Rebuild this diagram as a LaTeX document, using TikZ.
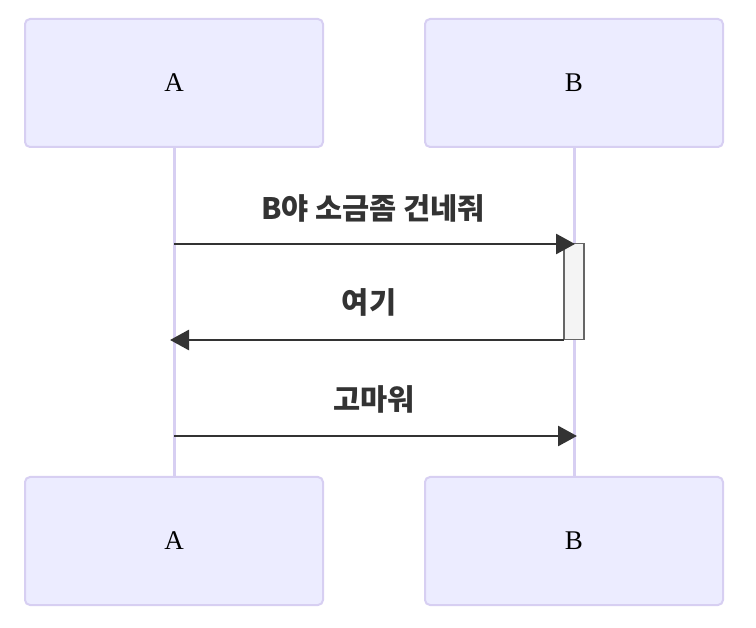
\documentclass[tikz,border=0pt]{standalone}
\usepackage{fontspec}
\setmainfont{Liberation Serif}
\newfontfamily\kofont{Noto Sans CJK KR}
\usetikzlibrary{arrows.meta}

\definecolor{actorfill}{HTML}{ECECFF}
\definecolor{actorline}{HTML}{D7CFF2}
\definecolor{msgline}{HTML}{333333}
\definecolor{actfill}{HTML}{F4F4F4}
\definecolor{actline}{HTML}{666666}

\tikzset{
  actor/.style={rectangle,rounded corners=5pt,fill=actorfill,draw=actorline,line width=2pt,
    minimum width=298pt,minimum height=128pt,font=\fontsize{27}{32}\selectfont},
  lifeline/.style={actorline,line width=3pt},
  activation/.style={rectangle,fill=actfill,draw=actline,line width=1.5pt,minimum width=20pt,minimum height=96pt,inner sep=0pt},
  msg/.style={msgline,line width=2.8pt,-{Triangle[length=19pt,width=20pt]}},
  msgtext/.style={text=msgline,font=\kofont\bfseries\fontsize{29.5}{34}\selectfont,inner sep=0pt}
}

\begin{document}
\begin{tikzpicture}[x=1pt,y=-1pt]
	\useasboundingbox (0,0) rectangle (756,628);

	% actors top and bottom
	\node[actor] (atop) at (174,83) {A};
	\node[actor] (btop) at (574,83) {B};
	\node[actor] (abot) at (174,541) {A};
	\node[actor] (bbot) at (574,541) {B};

	% lifelines
	\draw[lifeline] (atop.south) -- (abot.north);
	\draw[lifeline] (btop.south) -- (bbot.north);

	% activation of B
	\node[activation] (act) at (574,291.5) {};

	% message end points
	\coordinate (m1a) at (174,244);
	\coordinate (m1b) at (575,244);
	\coordinate (m2a) at (564,340);
	\coordinate (m2b) at (170,340);
	\coordinate (m3a) at (174,436);
	\coordinate (m3b) at (577,436);

	% messages
	\draw[msg] (m1a) -- (m1b);
	\node[msgtext] (l1) at (373,208) {B야 소금좀 건네줘};
	\draw[msg] (m2a) -- (m2b);
	\node[msgtext] (l2) at (369,302) {여기};
	\draw[msg] (m3a) -- (m3b);
	\node[msgtext] (l3) at (374,399) {고마워};
\end{tikzpicture}
\end{document}
